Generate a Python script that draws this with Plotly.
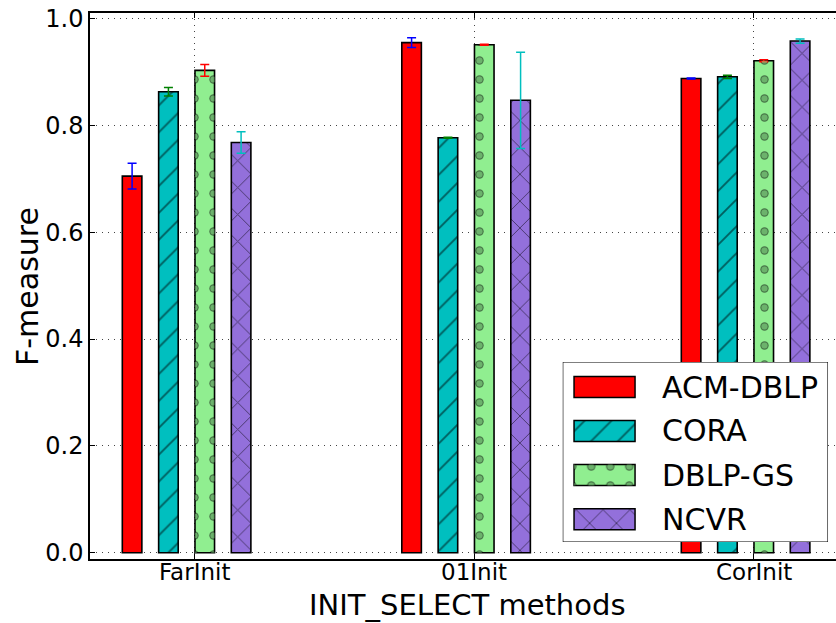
import plotly.graph_objects as go

# F-measure per INIT_SELECT method for each dataset, with error margins
methods = ["FarInit", "01Init", "CorInit"]
datasets = ["ACM-DBLP", "CORA", "DBLP-GS", "NCVR"]

acm_dblp = [0.705, 0.955, 0.888]
acm_dblp_err = [0.024, 0.009, 0.001]
cora = [0.863, 0.777, 0.891]
cora_err = [0.008, 0.001, 0.003]
dblp_gs = [0.903, 0.951, 0.921]
dblp_gs_err = [0.011, 0.001, 0.002]
ncvr = [0.768, 0.847, 0.958]
ncvr_err = [0.020, 0.090, 0.004]

values = [acm_dblp, cora, dblp_gs, ncvr]
errors = [acm_dblp_err, cora_err, dblp_gs_err, ncvr_err]

fill_colors = ["#ff0000", "#00bfbf", "#90ee90", "#9370db"]
err_colors = ["#0000ff", "#008000", "#ff0000", "#00bfbf"]
hatches = ["", "/", ".", "x"]

FONT = "DejaVu Sans"
step = 0.13      # spacing between bars inside a group
bw = 0.07        # bar width
PAT = 19         # hatch cell size in px

fig = go.Figure()


def pattern_for(i):
    if hatches[i] == "":
        return None
    if hatches[i] == ".":
        return dict(shape=".", fgcolor="black", size=PAT, solidity=0.155, fillmode="overlay")
    return dict(shape=hatches[i], fgcolor="black", size=PAT, solidity=0.1, fillmode="overlay")


def ring_pattern():
    return dict(shape=".", fgcolor=fill_colors[2], bgcolor="rgba(0,0,0,0)",
                size=PAT, solidity=0.08, fillmode="overlay")


for i, name in enumerate(datasets):
    xs = [g + i * step + bw / 2 for g in range(len(methods))]
    marker = dict(color=fill_colors[i], line=dict(color="black", width=1.6))
    pat = pattern_for(i)
    if pat:
        marker["pattern"] = pat
    fig.add_trace(go.Bar(
        x=xs, y=values[i], width=[bw] * len(xs), name=name, marker=marker,
        error_y=dict(type="data", array=errors[i], color=err_colors[i],
                     thickness=1.5, width=4.5),
        showlegend=False, xaxis="x", yaxis="y",
    ))
    if hatches[i] == ".":
        # hollow the dots into rings
        fig.add_trace(go.Bar(
            x=xs, y=values[i], width=[bw] * len(xs), showlegend=False,
            marker=dict(color="rgba(0,0,0,0)", line=dict(width=0), pattern=ring_pattern()),
            hoverinfo="skip", xaxis="x", yaxis="y",
        ))

# legend panel drawn on its own small axes
leg_rows = [0.861, 0.617, 0.372, 0.126]
sw_x, sw_w, sw_h = 0.1576, 0.23, 0.117
fig.add_trace(go.Bar(
    x=[0.5], y=[1], base=[0], width=[1], showlegend=False, hoverinfo="skip",
    marker=dict(color="white", line=dict(color="black", width=1.2)),
    cliponaxis=False, xaxis="x2", yaxis="y2",
))
for i, name in enumerate(datasets):
    marker = dict(color=fill_colors[i], line=dict(color="black", width=1.5))
    pat = pattern_for(i)
    if pat:
        marker["pattern"] = pat
    fig.add_trace(go.Bar(
        x=[sw_x], y=[sw_h], base=[leg_rows[i] - sw_h / 2], width=[sw_w],
        marker=marker, showlegend=False, hoverinfo="skip", cliponaxis=False,
        xaxis="x2", yaxis="y2",
    ))
    if hatches[i] == ".":
        fig.add_trace(go.Bar(
            x=[sw_x], y=[sw_h], base=[leg_rows[i] - sw_h / 2], width=[sw_w],
            marker=dict(color="rgba(0,0,0,0)", line=dict(width=0), pattern=ring_pattern()),
            showlegend=False, hoverinfo="skip", cliponaxis=False,
            xaxis="x2", yaxis="y2",
        ))
    fig.add_annotation(x=0.367, y=leg_rows[i], xref="x2", yref="y2", text=name,
                       showarrow=False, xanchor="left", yanchor="middle",
                       font=dict(family=FONT, size=30, color="black"))

axis_common = dict(
    showline=True, linecolor="black", linewidth=1.5,
    ticks="inside", ticklen=5, tickwidth=1, tickcolor="black",
    showgrid=True, gridcolor="#444444", gridwidth=1, griddash="1px,5px",
    zeroline=False, tickfont=dict(family=FONT, size=24, color="black"),
)

tick_pos = [g + 2 * step for g in range(len(methods))]

fig.update_layout(
    width=836, height=623,
    margin=dict(l=90, r=0, t=13, b=64),
    paper_bgcolor="white", plot_bgcolor="white",
    barmode="overlay", showlegend=False,
    font=dict(family=FONT, color="black"),
    xaxis=dict(range=[-0.1156, 2.5535], tickvals=tick_pos, showticklabels=False,
               mirror="ticks", **axis_common),
    yaxis=dict(range=[-0.0118, 1.0105], tickvals=[0, 0.2, 0.4, 0.6, 0.8, 1.0],
               tickformat=".1f", mirror=False, **axis_common),
    xaxis2=dict(domain=[0.6337, 0.9893], range=[0, 1], visible=False, anchor="y2",
                fixedrange=True),
    yaxis2=dict(domain=[0.0311, 0.3608], range=[0, 1], visible=False, anchor="x2",
                fixedrange=True),
)

# category labels under the tick marks
for pos, label in zip(tick_pos, methods):
    fig.add_annotation(x=pos, y=-0.0238, xref="x", yref="paper", text=label,
                       showarrow=False, xanchor="center", yanchor="middle",
                       font=dict(family=FONT, size=23, color="black"))

fig.add_annotation(x=0.506, y=-0.0835, xref="paper", yref="paper", text="INIT_SELECT methods",
                   showarrow=False, xanchor="center", yanchor="middle",
                   font=dict(family=FONT, size=29, color="black"))
fig.add_annotation(x=-0.0845, y=0.5, xref="paper", yref="paper", text="F-measure",
                   textangle=-90, showarrow=False, xanchor="center", yanchor="middle",
                   font=dict(family=FONT, size=30, color="black"))

fig.write_html("out.html")
